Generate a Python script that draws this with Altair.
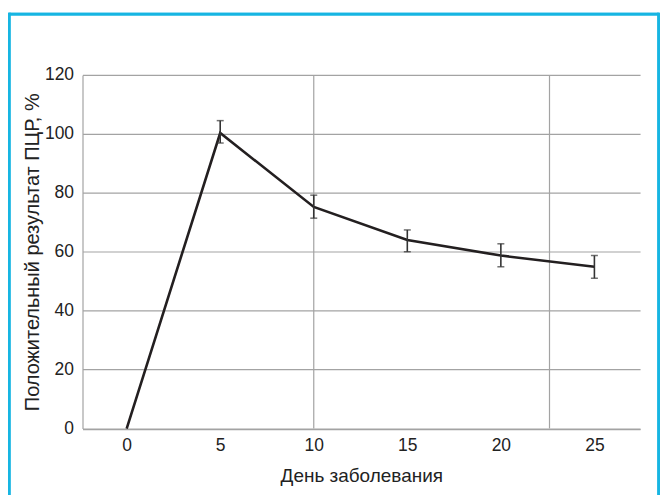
import altair as alt
import pandas as pd

# Data
days = [0, 5, 10, 15, 20, 25]
positive_pct = [0, 100.3, 75.2, 64.0, 58.7, 54.9]
err_low = [None, 96.9, 71.4, 60.0, 54.9, 51.0]
err_high = [None, 104.5, 79.2, 67.4, 62.7, 58.7]
x_ticks = [0, 5, 10, 15, 20, 25]
y_ticks = [0, 20, 40, 60, 80, 100, 120]
v_grid = [10, 22.6]

df = pd.DataFrame({"day": days, "pct": positive_pct, "lo": err_low, "hi": err_high})
df_err = df.dropna()
df_vg = pd.DataFrame({"v": v_grid})

W, H = 559, 354.5
GRID = "#a3a3a3"
FONT = "Liberation Sans"

xscale = alt.Scale(domain=[-2.36, 27.44], nice=False, zero=False)
yscale = alt.Scale(domain=[0, 120], nice=False)

x_axis = alt.Axis(values=x_ticks, grid=False, ticks=False, tickSize=0,
                  domainColor=GRID, domainWidth=1.2, labelPadding=8,
                  labelFontSize=17.5, labelFont=FONT, labelColor="#222",
                  title="День заболевания", titleFontSize=19, titleFont=FONT,
                  titleFontWeight="normal", titleColor="#222",
                  titleBaseline="middle", titleY=47)
y_axis = alt.Axis(values=y_ticks, grid=True, gridColor=GRID, gridWidth=1.2,
                  ticks=False, tickSize=0, domainColor=GRID, domainWidth=1.2,
                  labelPadding=9, labelFontSize=17.5, labelFont=FONT, labelColor="#222",
                  title="Положительный результат ПЦР, %", titleFontSize=20,
                  titleFont=FONT, titleFontWeight="normal", titleColor="#222",
                  titleAngle=270, titleBaseline="middle", titleX=-50, titleY=H / 2)

vgrid = alt.Chart(df_vg).mark_rule(color=GRID, strokeWidth=1.2).encode(
    x=alt.X("v:Q", scale=xscale, axis=x_axis)
)

line = alt.Chart(df).mark_line(color="#231f20", strokeWidth=2.6).encode(
    x=alt.X("day:Q", scale=xscale, axis=x_axis),
    y=alt.Y("pct:Q", scale=yscale, axis=y_axis),
)

ebar = alt.Chart(df_err).mark_rule(color="#333333", strokeWidth=1.6).encode(
    x=alt.X("day:Q", scale=xscale, axis=x_axis),
    y=alt.Y("lo:Q", scale=yscale, axis=y_axis),
    y2="hi:Q",
)
cap_lo = alt.Chart(df_err).mark_tick(color="#333333", orient="horizontal", size=7, thickness=1.5).encode(
    x=alt.X("day:Q", scale=xscale, axis=x_axis),
    y=alt.Y("lo:Q", scale=yscale, axis=y_axis),
)
cap_hi = alt.Chart(df_err).mark_tick(color="#333333", orient="horizontal", size=7, thickness=1.5).encode(
    x=alt.X("day:Q", scale=xscale, axis=x_axis),
    y=alt.Y("hi:Q", scale=yscale, axis=y_axis),
)

CYAN = "#17b5e2"
bl, bt, br, bb = -73.4, -61.0, 577.6, 440
border_left = alt.Chart(df_vg).mark_rule(color=CYAN, strokeWidth=2.6).encode(
    x=alt.value(bl), y=alt.value(bt - 1.3), y2=alt.value(bb))
border_top = alt.Chart(df_vg).mark_rule(color=CYAN, strokeWidth=2.6).encode(
    x=alt.value(bl), x2=alt.value(br), y=alt.value(bt))
border_right = alt.Chart(df_vg).mark_rule(color=CYAN, strokeWidth=2.6).encode(
    x=alt.value(br), y=alt.value(bt - 1.3), y2=alt.value(bb))

chart = alt.layer(
    vgrid, line, ebar, cap_lo, cap_hi, border_left, border_top, border_right
).properties(
    width=W, height=H,
    background="white",
    autosize=alt.AutoSizeParams(type="none"),
    padding={"left": 74.7, "top": 66.5, "right": 22, "bottom": 66},
).configure_view(stroke=None)

chart.save("out.html", embed_options={"renderer": "svg", "actions": False})
